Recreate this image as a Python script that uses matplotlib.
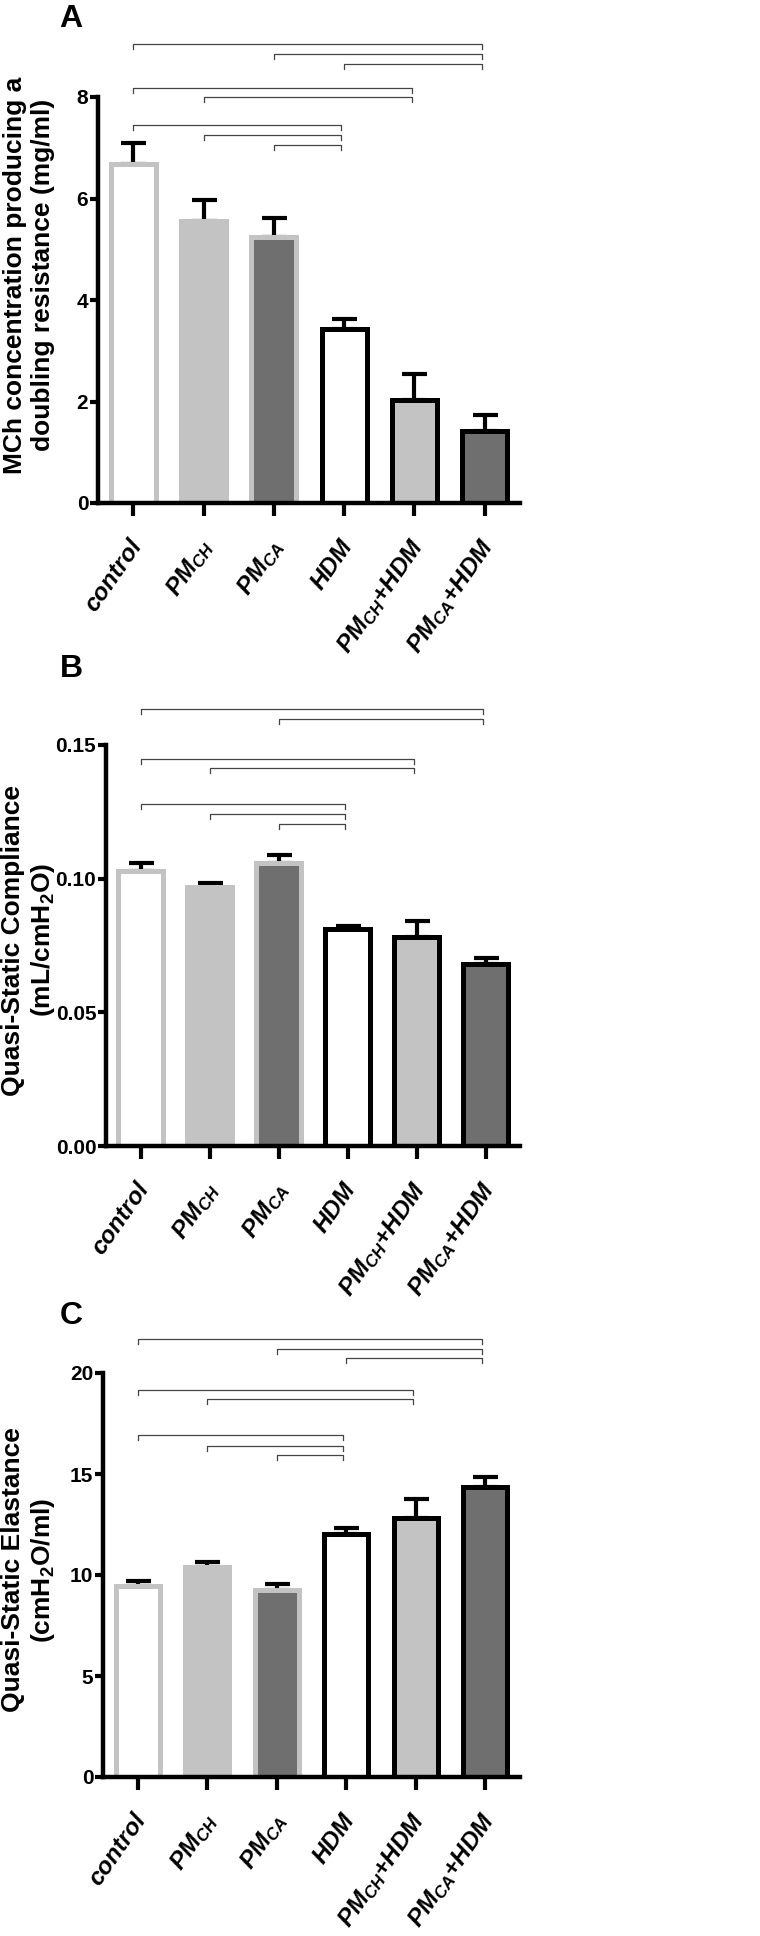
import matplotlib
matplotlib.use("Agg")
import numpy as np
from matplotlib import pyplot as plt
from matplotlib import font_manager

GROUPS = ["control", "$PM_{CH}$", "$PM_{CA}$", "HDM", "$PM_{CH}$+HDM", "$PM_{CA}$+HDM"]

MCH_MEAN = [6.67, 5.55, 5.25, 3.42, 2.02, 1.41]
MCH_SEM = [0.42, 0.42, 0.36, 0.20, 0.52, 0.32]

COMPLIANCE_MEAN = [0.1030, 0.0970, 0.1057, 0.0810, 0.0780, 0.0679]
COMPLIANCE_SEM = [0.0029, 0.0013, 0.0031, 0.0013, 0.0060, 0.0024]

ELASTANCE_MEAN = [9.48, 10.42, 9.28, 12.05, 12.80, 14.38]
ELASTANCE_SEM = [0.22, 0.22, 0.27, 0.27, 0.96, 0.47]

# significant pairwise comparisons (group indices)
PAIRS_A = [(0, 5), (2, 5), (3, 5), (0, 4), (1, 4), (0, 3), (1, 3), (2, 3)]
PAIRS_B = [(0, 5), (2, 5), (0, 4), (1, 4), (0, 3), (1, 3), (2, 3)]
PAIRS_C = [(0, 5), (2, 5), (3, 5), (0, 4), (1, 4), (0, 3), (1, 3), (2, 3)]

plt.rcParams["font.family"] = ["Liberation Sans", "DejaVu Sans"]
plt.rcParams["mathtext.fontset"] = "custom"
plt.rcParams["mathtext.default"] = "it"
plt.rcParams["mathtext.rm"] = "Liberation Sans:bold"
plt.rcParams["mathtext.it"] = "Liberation Sans:italic:bold"
plt.rcParams["mathtext.bf"] = "Liberation Sans:bold"

# the figure's numbers look condensed; use the narrow face when it exists
installed = {f.name for f in font_manager.fontManager.ttflist}
if "Liberation Sans Narrow" in installed:
    NARROW, TICK_SIZE, LETTER_SIZE = ["Liberation Sans Narrow", "DejaVu Sans"], 17, 26
else:
    NARROW, TICK_SIZE, LETTER_SIZE = ["Liberation Sans", "DejaVu Sans"], 15, 23

FILLS = ["white", "#c3c3c3", "#6f6f6f", "white", "#c3c3c3", "#6f6f6f"]
EDGES = ["#c3c3c3"] * 3 + ["black"] * 3
W, H = 760, 1936


def draw_panel(rect, means, sems, pairs, bracket_y, ylim, yticks, ytick_fmt,
               ylabel, label_y, letter, letter_y):
    left, right, top, bottom = rect
    ax = fig.add_axes([left / W, 1 - bottom / H, (right - left) / W, (bottom - top) / H])
    x = np.arange(len(means))
    ax.errorbar(x, means, yerr=[np.zeros(len(sems)), sems], fmt="none",
                ecolor="black", elinewidth=3, capsize=9, capthick=3, zorder=1)
    ax.bar(x, means, width=0.64, color=FILLS, edgecolor=EDGES, linewidth=3.6, zorder=2)

    ax.set_xlim(-0.5, 5.5)
    ax.set_ylim(*ylim)
    for s in ["top", "right"]:
        ax.spines[s].set_visible(False)
    for s in ["left", "bottom"]:
        ax.spines[s].set_linewidth(3.2)
    ax.set_yticks(yticks)
    ax.set_yticklabels([ytick_fmt.format(v) for v in yticks], family=NARROW,
                       fontweight="bold", fontsize=TICK_SIZE)
    ax.tick_params(axis="y", length=6, width=3, pad=1)
    ax.set_xticks(x)
    ax.set_xticklabels([])
    ax.tick_params(axis="x", length=9, width=3)

    # slanted group names hanging from the ticks
    for i, name in enumerate(GROUPS):
        ax.annotate(name, xy=(i, 0), xycoords=ax.get_xaxis_transform(),
                    xytext=(-4, -23), textcoords="offset points", rotation=55,
                    rotation_mode="anchor", ha="right", va="top",
                    fontsize=17.5, fontweight="bold", fontstyle="italic",
                    annotation_clip=False)

    trans = ax.get_xaxis_transform()
    drop = 0.012
    for (i, j), yb in zip(pairs, bracket_y):
        xr = j - 0.04
        ax.plot([i, i, xr, xr], [yb - drop, yb, yb, yb - drop], color="#444444",
                linewidth=0.9, transform=trans, clip_on=False)

    fig.text(29 / W, 1 - label_y / H, ylabel, rotation=90, ha="center", va="center",
             fontsize=19, fontweight="bold", multialignment="center", linespacing=1.22)
    fig.text(71 / W, 1 - letter_y / H, letter, ha="center", va="center",
             family=NARROW, fontweight="bold", fontsize=LETTER_SIZE)
    return ax


fig = plt.figure(figsize=(W / 100, H / 100), dpi=100)

draw_panel((98, 520, 97, 503), MCH_MEAN, MCH_SEM, PAIRS_A,
           [1.1305, 1.106, 1.081, 1.022, 1.0, 0.931, 0.906, 0.882],
           (0, 8), [0, 2, 4, 6, 8], "{:g}",
           "MCh concentration producing a\ndoubling resistance (mg/ml)", 275, "A", 19)

draw_panel((106, 520, 745, 1146), COMPLIANCE_MEAN, COMPLIANCE_SEM, PAIRS_B,
           [1.0898, 1.0648, 0.965, 0.9426, 0.853, 0.828, 0.803],
           (0, 0.15), [0, 0.05, 0.10, 0.15], "{:.2f}",
           "Quasi-Static Compliance\n(mL/cmH$_\\mathrm{2}$O)", 940, "B", 669)

draw_panel((103, 520, 1373, 1777), ELASTANCE_MEAN, ELASTANCE_SEM, PAIRS_C,
           [1.084, 1.059, 1.037, 0.958, 0.936, 0.8465, 0.819, 0.797],
           (0, 20), [0, 5, 10, 15, 20], "{:g}",
           "Quasi-Static Elastance\n(cmH$_\\mathrm{2}$O/ml)", 1570, "C", 1316)

fig.savefig("out.png", dpi=100)
